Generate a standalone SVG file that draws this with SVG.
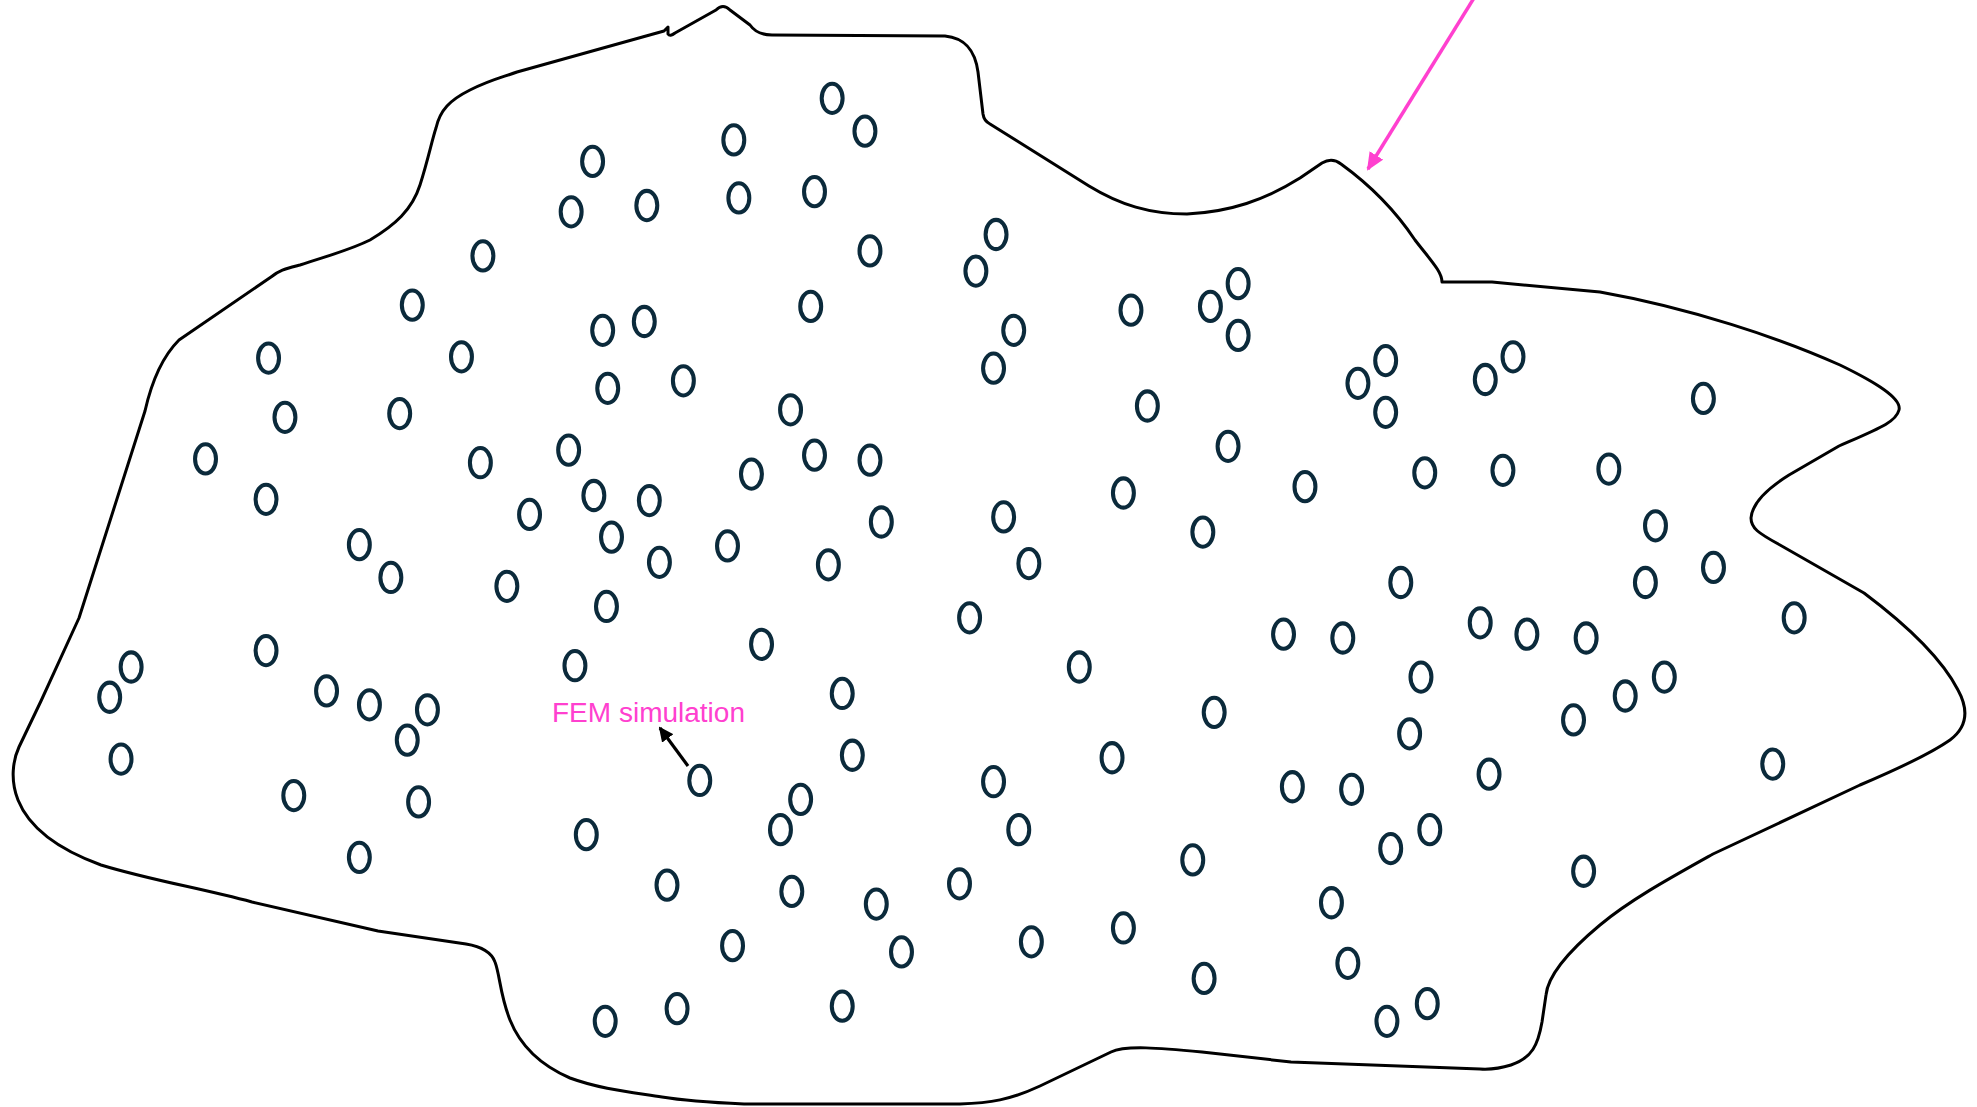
<svg xmlns="http://www.w3.org/2000/svg" width="1977" height="1107" viewBox="0 0 1977 1107">
<style>
.outline{fill:none;stroke:#000;stroke-width:3;stroke-linejoin:round;stroke-linecap:round}
.p{fill:none;stroke:#0b2a3b;stroke-width:3.2}
.lbl{font-family:"Liberation Sans",Arial,sans-serif;font-size:27px;fill:#ff40cf}
</style>
<defs>
<marker id="pinkHead" markerUnits="userSpaceOnUse" markerWidth="18" markerHeight="16" refX="16" refY="8" orient="auto"><path d="M0,0 L18,8 L0,16 z" fill="#ff40cf"/></marker>
<marker id="blackHead" markerUnits="userSpaceOnUse" markerWidth="15" markerHeight="14" refX="13" refY="7" orient="auto"><path d="M0,0 L15,7 L0,14 z" fill="#000"/></marker>
</defs>
<rect width="1977" height="1107" fill="#fff"/>
<g id="domain">
<path class="outline" d="M 664,31 L 668,27 L 668,34 Q 670,37 675,33 L 716,10 Q 723,3 730,10 L 750,25 Q 757,35 772,35 L 945,36 C 965,38 975,50 978,72 L 983,114 Q 984,121 990,124 L 1089,186 C 1120,205 1150,214 1187,214 C 1230,212 1265,200 1300,178 L 1322,163 Q 1332,157 1341,164 C 1370,185 1395,210 1415,240 C 1432,262 1442,272 1442,282 L 1492,282 L 1600,292 C 1690,308 1780,338 1840,365 C 1875,382 1902,398 1899,410 C 1896,422 1880,428 1839,446 L 1789,475 C 1765,490 1752,505 1751,518 C 1751,528 1758,533 1780,545 L 1864,593 C 1900,620 1940,655 1958,690 C 1970,712 1966,728 1950,740 C 1930,754 1900,768 1860,785 L 1713,854 C 1670,878 1630,900 1600,925 C 1570,950 1548,975 1546,995 L 1542,1022 C 1538,1045 1532,1058 1511,1065 Q 1495,1070 1480,1069 L 1291,1062 L 1202,1052 C 1160,1048 1125,1045 1111,1052 L 1040,1086 C 1010,1100 990,1103 960,1104 L 744,1104 C 700,1102 680,1100 662,1097 C 630,1092 600,1089 570,1078 C 540,1065 520,1045 510,1020 C 500,995 500,975 495,962 Q 490,948 466,944 L 378,931 L 252,902 C 200,888 150,880 101,865 C 60,850 30,830 18,800 C 10,780 13,760 19,747 L 41,701 L 79,618 L 145,411 C 152,380 163,356 179,340 L 271,277 C 280,270 285,269 300,265 C 330,255 350,250 370,240 C 395,225 412,210 420,185 C 428,160 432,140 436,128 C 440,110 450,100 470,90 C 490,80 500,78 517,72 Z"/>
</g>
<g id="particles" transform="scale(1.26084)">
<ellipse class="p" cx="660" cy="78" rx="8.3" ry="11.6"/>
<ellipse class="p" cx="686" cy="104" rx="8.3" ry="11.6"/>
<ellipse class="p" cx="582" cy="111" rx="8.3" ry="11.6"/>
<ellipse class="p" cx="470" cy="128" rx="8.3" ry="11.6"/>
<ellipse class="p" cx="453" cy="168" rx="8.3" ry="11.6"/>
<ellipse class="p" cx="513" cy="163" rx="8.3" ry="11.6"/>
<ellipse class="p" cx="586" cy="157" rx="8.3" ry="11.6"/>
<ellipse class="p" cx="646" cy="152" rx="8.3" ry="11.6"/>
<ellipse class="p" cx="383" cy="203" rx="8.3" ry="11.6"/>
<ellipse class="p" cx="690" cy="199" rx="8.3" ry="11.6"/>
<ellipse class="p" cx="790" cy="186" rx="8.3" ry="11.6"/>
<ellipse class="p" cx="774" cy="215" rx="8.3" ry="11.6"/>
<ellipse class="p" cx="327" cy="242" rx="8.3" ry="11.6"/>
<ellipse class="p" cx="478" cy="262" rx="8.3" ry="11.6"/>
<ellipse class="p" cx="511" cy="255" rx="8.3" ry="11.6"/>
<ellipse class="p" cx="643" cy="243" rx="8.3" ry="11.6"/>
<ellipse class="p" cx="897" cy="246" rx="8.3" ry="11.6"/>
<ellipse class="p" cx="960" cy="243" rx="8.3" ry="11.6"/>
<ellipse class="p" cx="982" cy="225" rx="8.3" ry="11.6"/>
<ellipse class="p" cx="982" cy="266" rx="8.3" ry="11.6"/>
<ellipse class="p" cx="804" cy="262" rx="8.3" ry="11.6"/>
<ellipse class="p" cx="788" cy="292" rx="8.3" ry="11.6"/>
<ellipse class="p" cx="213" cy="284" rx="8.3" ry="11.6"/>
<ellipse class="p" cx="366" cy="283" rx="8.3" ry="11.6"/>
<ellipse class="p" cx="482" cy="308" rx="8.3" ry="11.6"/>
<ellipse class="p" cx="542" cy="302" rx="8.3" ry="11.6"/>
<ellipse class="p" cx="1077" cy="304" rx="8.3" ry="11.6"/>
<ellipse class="p" cx="1099" cy="286" rx="8.3" ry="11.6"/>
<ellipse class="p" cx="1099" cy="327" rx="8.3" ry="11.6"/>
<ellipse class="p" cx="1178" cy="301" rx="8.3" ry="11.6"/>
<ellipse class="p" cx="1200" cy="283" rx="8.3" ry="11.6"/>
<ellipse class="p" cx="1351" cy="316" rx="8.3" ry="11.6"/>
<ellipse class="p" cx="226" cy="331" rx="8.3" ry="11.6"/>
<ellipse class="p" cx="317" cy="328" rx="8.3" ry="11.6"/>
<ellipse class="p" cx="627" cy="325" rx="8.3" ry="11.6"/>
<ellipse class="p" cx="910" cy="322" rx="8.3" ry="11.6"/>
<ellipse class="p" cx="163" cy="364" rx="8.3" ry="11.6"/>
<ellipse class="p" cx="381" cy="367" rx="8.3" ry="11.6"/>
<ellipse class="p" cx="451" cy="357" rx="8.3" ry="11.6"/>
<ellipse class="p" cx="596" cy="376" rx="8.3" ry="11.6"/>
<ellipse class="p" cx="646" cy="361" rx="8.3" ry="11.6"/>
<ellipse class="p" cx="690" cy="365" rx="8.3" ry="11.6"/>
<ellipse class="p" cx="974" cy="354" rx="8.3" ry="11.6"/>
<ellipse class="p" cx="1035" cy="386" rx="8.3" ry="11.6"/>
<ellipse class="p" cx="1130" cy="375" rx="8.3" ry="11.6"/>
<ellipse class="p" cx="1192" cy="373" rx="8.3" ry="11.6"/>
<ellipse class="p" cx="1276" cy="372" rx="8.3" ry="11.6"/>
<ellipse class="p" cx="211" cy="396" rx="8.3" ry="11.6"/>
<ellipse class="p" cx="420" cy="408" rx="8.3" ry="11.6"/>
<ellipse class="p" cx="471" cy="393" rx="8.3" ry="11.6"/>
<ellipse class="p" cx="515" cy="397" rx="8.3" ry="11.6"/>
<ellipse class="p" cx="699" cy="414" rx="8.3" ry="11.6"/>
<ellipse class="p" cx="796" cy="410" rx="8.3" ry="11.6"/>
<ellipse class="p" cx="891" cy="391" rx="8.3" ry="11.6"/>
<ellipse class="p" cx="954" cy="422" rx="8.3" ry="11.6"/>
<ellipse class="p" cx="1313" cy="417" rx="8.3" ry="11.6"/>
<ellipse class="p" cx="285" cy="432" rx="8.3" ry="11.6"/>
<ellipse class="p" cx="310" cy="458" rx="8.3" ry="11.6"/>
<ellipse class="p" cx="485" cy="426" rx="8.3" ry="11.6"/>
<ellipse class="p" cx="523" cy="446" rx="8.3" ry="11.6"/>
<ellipse class="p" cx="577" cy="433" rx="8.3" ry="11.6"/>
<ellipse class="p" cx="657" cy="448" rx="8.3" ry="11.6"/>
<ellipse class="p" cx="816" cy="447" rx="8.3" ry="11.6"/>
<ellipse class="p" cx="402" cy="465" rx="8.3" ry="11.6"/>
<ellipse class="p" cx="1111" cy="462" rx="8.3" ry="11.6"/>
<ellipse class="p" cx="1305" cy="462" rx="8.3" ry="11.6"/>
<ellipse class="p" cx="1359" cy="450" rx="8.3" ry="11.6"/>
<ellipse class="p" cx="481" cy="481" rx="8.3" ry="11.6"/>
<ellipse class="p" cx="769" cy="490" rx="8.3" ry="11.6"/>
<ellipse class="p" cx="1423" cy="490" rx="8.3" ry="11.6"/>
<ellipse class="p" cx="1174" cy="494" rx="8.3" ry="11.6"/>
<ellipse class="p" cx="1211" cy="503" rx="8.3" ry="11.6"/>
<ellipse class="p" cx="1258" cy="506" rx="8.3" ry="11.6"/>
<ellipse class="p" cx="1018" cy="503" rx="8.3" ry="11.6"/>
<ellipse class="p" cx="1065" cy="506" rx="8.3" ry="11.6"/>
<ellipse class="p" cx="104" cy="529" rx="8.3" ry="11.6"/>
<ellipse class="p" cx="87" cy="553" rx="8.3" ry="11.6"/>
<ellipse class="p" cx="211" cy="516" rx="8.3" ry="11.6"/>
<ellipse class="p" cx="456" cy="528" rx="8.3" ry="11.6"/>
<ellipse class="p" cx="604" cy="511" rx="8.3" ry="11.6"/>
<ellipse class="p" cx="856" cy="529" rx="8.3" ry="11.6"/>
<ellipse class="p" cx="1127" cy="537" rx="8.3" ry="11.6"/>
<ellipse class="p" cx="1320" cy="537" rx="8.3" ry="11.6"/>
<ellipse class="p" cx="1289" cy="552" rx="8.3" ry="11.6"/>
<ellipse class="p" cx="259" cy="548" rx="8.3" ry="11.6"/>
<ellipse class="p" cx="293" cy="559" rx="8.3" ry="11.6"/>
<ellipse class="p" cx="339" cy="563" rx="8.3" ry="11.6"/>
<ellipse class="p" cx="323" cy="587" rx="8.3" ry="11.6"/>
<ellipse class="p" cx="668" cy="550" rx="8.3" ry="11.6"/>
<ellipse class="p" cx="963" cy="565" rx="8.3" ry="11.6"/>
<ellipse class="p" cx="1248" cy="571" rx="8.3" ry="11.6"/>
<ellipse class="p" cx="1118" cy="582" rx="8.3" ry="11.6"/>
<ellipse class="p" cx="96" cy="602" rx="8.3" ry="11.6"/>
<ellipse class="p" cx="676" cy="599" rx="8.3" ry="11.6"/>
<ellipse class="p" cx="882" cy="601" rx="8.3" ry="11.6"/>
<ellipse class="p" cx="1406" cy="606" rx="8.3" ry="11.6"/>
<ellipse class="p" cx="1181" cy="614" rx="8.3" ry="11.6"/>
<ellipse class="p" cx="555" cy="619" rx="8.3" ry="11.6"/>
<ellipse class="p" cx="233" cy="631" rx="8.3" ry="11.6"/>
<ellipse class="p" cx="332" cy="636" rx="8.3" ry="11.6"/>
<ellipse class="p" cx="635" cy="634" rx="8.3" ry="11.6"/>
<ellipse class="p" cx="619" cy="658" rx="8.3" ry="11.6"/>
<ellipse class="p" cx="788" cy="620" rx="8.3" ry="11.6"/>
<ellipse class="p" cx="1025" cy="624" rx="8.3" ry="11.6"/>
<ellipse class="p" cx="1072" cy="626" rx="8.3" ry="11.6"/>
<ellipse class="p" cx="465" cy="662" rx="8.3" ry="11.6"/>
<ellipse class="p" cx="808" cy="658" rx="8.3" ry="11.6"/>
<ellipse class="p" cx="1134" cy="658" rx="8.3" ry="11.6"/>
<ellipse class="p" cx="1103" cy="673" rx="8.3" ry="11.6"/>
<ellipse class="p" cx="285" cy="680" rx="8.3" ry="11.6"/>
<ellipse class="p" cx="946" cy="682" rx="8.3" ry="11.6"/>
<ellipse class="p" cx="1256" cy="691" rx="8.3" ry="11.6"/>
<ellipse class="p" cx="529" cy="702" rx="8.3" ry="11.6"/>
<ellipse class="p" cx="628" cy="707" rx="8.3" ry="11.6"/>
<ellipse class="p" cx="695" cy="717" rx="8.3" ry="11.6"/>
<ellipse class="p" cx="761" cy="701" rx="8.3" ry="11.6"/>
<ellipse class="p" cx="1056" cy="716" rx="8.3" ry="11.6"/>
<ellipse class="p" cx="891" cy="736" rx="8.3" ry="11.6"/>
<ellipse class="p" cx="581" cy="750" rx="8.3" ry="11.6"/>
<ellipse class="p" cx="715" cy="755" rx="8.3" ry="11.6"/>
<ellipse class="p" cx="818" cy="747" rx="8.3" ry="11.6"/>
<ellipse class="p" cx="1069" cy="764" rx="8.3" ry="11.6"/>
<ellipse class="p" cx="955" cy="776" rx="8.3" ry="11.6"/>
<ellipse class="p" cx="480" cy="810" rx="8.3" ry="11.6"/>
<ellipse class="p" cx="537" cy="800" rx="8.3" ry="11.6"/>
<ellipse class="p" cx="668" cy="798" rx="8.3" ry="11.6"/>
<ellipse class="p" cx="1100" cy="810" rx="8.3" ry="11.6"/>
<ellipse class="p" cx="1132" cy="796" rx="8.3" ry="11.6"/>
</g>
<g id="connectors">
<line x1="1474" y1="-2" x2="1368" y2="169" stroke="#ff40cf" stroke-width="3.5" marker-end="url(#pinkHead)"/>
<line x1="688" y1="766" x2="660" y2="728" stroke="#000" stroke-width="3.2" marker-end="url(#blackHead)"/>
</g>
<g id="label">
<text class="lbl" x="552" y="722" textLength="193" lengthAdjust="spacingAndGlyphs">FEM simulation</text>
</g>
</svg>
